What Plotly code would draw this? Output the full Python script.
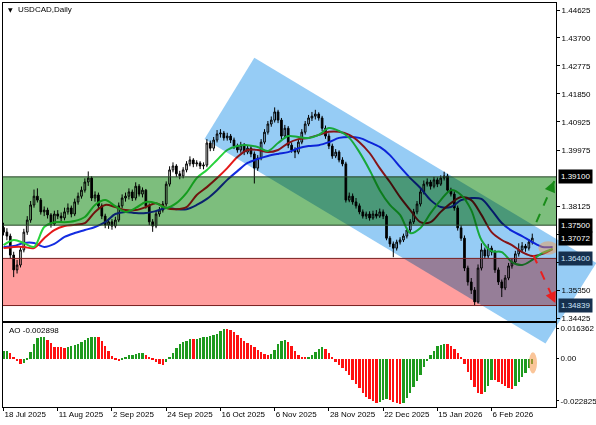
import plotly.graph_objects as go

# ---------------- data ----------------
tick_bars = [0, 16, 32, 48, 64, 80, 96, 112, 128, 144]
tick_dates = ["18 Jul 2025", "11 Aug 2025", "2 Sep 2025", "24 Sep 2025", "16 Oct 2025",
              "6 Nov 2025", "28 Nov 2025", "22 Dec 2025", "15 Jan 2026", "6 Feb 2026"]

price_ticks = [1.44625, 1.43700, 1.42775, 1.41850, 1.40925, 1.39975,
               1.38125, 1.37200, 1.36275, 1.35350, 1.34425]
ao_ticks = [0.016362, 0.0, -0.022825]
ao_tick_text = ["0.016362", "0.00", "-0.022825"]

open_ = [1.3742,1.3727,1.3714,1.3651,1.3602,1.3618,1.3668,1.3727,1.3767,1.3817,
1.3846,1.3833,1.3794,1.3800,1.3784,1.3754,1.3787,1.3780,1.3774,1.3794,
1.3807,1.3787,1.3827,1.3846,1.3866,1.3893,1.3906,1.3840,1.3850,1.3814,
1.3780,1.3751,1.3761,1.3747,1.3767,1.3814,1.3840,1.3846,1.3860,1.3840,
1.3879,1.3853,1.3866,1.3814,1.3761,1.3747,1.3787,1.3800,1.3820,1.3886,
1.3933,1.3946,1.3920,1.3913,1.3933,1.3953,1.3966,1.3953,1.3956,1.3946,
1.3949,1.4022,1.4005,1.4032,1.4052,1.4055,1.4039,1.4045,1.4032,1.4012,
1.3999,1.4015,1.3992,1.4005,1.3986,1.3939,1.3972,1.4025,1.4058,1.4085,
1.4098,1.4125,1.4098,1.4045,1.4071,1.4015,1.3999,1.3992,1.4025,1.4058,
1.4085,1.4105,1.4111,1.4118,1.4105,1.4071,1.4045,1.4012,1.3979,1.3992,
1.3966,1.3953,1.3833,1.3846,1.3827,1.3814,1.3794,1.3780,1.3787,1.3774,
1.3787,1.3780,1.3794,1.3780,1.3707,1.3688,1.3674,1.3694,1.3701,1.3714,
1.3734,1.3761,1.3794,1.3820,1.3860,1.3886,1.3893,1.3879,1.3900,1.3886,
1.3906,1.3913,1.3866,1.3853,1.3807,1.3741,1.3707,1.3608,1.3562,1.3535,
1.3496,1.3608,1.3668,1.3648,1.3674,1.3661,1.3602,1.3562,1.3542,1.3575,
1.3615,1.3628,1.3655,1.3668,1.3681,1.3674,1.3694]

high = [1.3758,1.3740,1.3722,1.3662,1.3635,1.3680,1.3738,1.3780,1.3830,1.3868,
1.3872,1.3840,1.3812,1.3808,1.3790,1.3798,1.3800,1.3792,1.3808,1.3822,
1.3815,1.3838,1.3858,1.3878,1.3905,1.3928,1.3912,1.3862,1.3858,1.3822,
1.3788,1.3772,1.3770,1.3778,1.3825,1.3852,1.3858,1.3872,1.3868,1.3892,
1.3886,1.3875,1.3870,1.3822,1.3770,1.3798,1.3810,1.3830,1.3895,1.3945,
1.3958,1.3952,1.3930,1.3942,1.3962,1.3978,1.3972,1.3965,1.3962,1.3958,
1.4035,1.4030,1.4042,1.4065,1.4068,1.4062,1.4056,1.4052,1.4040,1.4020,
1.4026,1.4022,1.4014,1.4012,1.3994,1.3982,1.4035,1.4068,1.4095,1.4110,
1.4140,1.4132,1.4105,1.4082,1.4078,1.4024,1.4008,1.4035,1.4068,1.4095,
1.4115,1.4125,1.4132,1.4124,1.4112,1.4080,1.4054,1.4020,1.4002,1.3998,
1.3975,1.3960,1.3858,1.3855,1.3840,1.3822,1.3802,1.3795,1.3796,1.3798,
1.3800,1.3805,1.3802,1.3786,1.3714,1.3696,1.3702,1.3710,1.3722,1.3742,
1.3770,1.3804,1.3830,1.3870,1.3898,1.3905,1.3900,1.3910,1.3908,1.3915,
1.3927,1.3920,1.3874,1.3862,1.3815,1.3750,1.3716,1.3616,1.3575,1.3545,
1.3620,1.3690,1.3676,1.3688,1.3682,1.3668,1.3610,1.3570,1.3585,1.3625,
1.3638,1.3665,1.3690,1.3694,1.3688,1.3704,1.3722]

low = [1.3716,1.3700,1.3640,1.3578,1.3590,1.3610,1.3660,1.3718,1.3758,1.3808,
1.3825,1.3785,1.3780,1.3772,1.3742,1.3748,1.3770,1.3762,1.3766,1.3785,
1.3776,1.3780,1.3818,1.3838,1.3858,1.3880,1.3830,1.3828,1.3805,1.3770,
1.3740,1.3738,1.3735,1.3740,1.3760,1.3806,1.3828,1.3835,1.3830,1.3832,
1.3845,1.3842,1.3805,1.3750,1.3728,1.3740,1.3778,1.3792,1.3812,1.3878,
1.3925,1.3910,1.3902,1.3905,1.3925,1.3945,1.3942,1.3944,1.3936,1.3935,
1.3942,1.3995,1.3996,1.4024,1.4040,1.4030,1.4030,1.4022,1.4002,1.3990,
1.3990,1.3982,1.3985,1.3975,1.3888,1.3930,1.3965,1.4018,1.4050,1.4076,
1.4090,1.4088,1.4035,1.4038,1.4005,1.3990,1.3972,1.3985,1.4018,1.4050,
1.4078,1.4095,1.4100,1.4096,1.4062,1.4036,1.4002,1.3970,1.3972,1.3958,
1.3945,1.3825,1.3826,1.3818,1.3805,1.3786,1.3772,1.3770,1.3765,1.3768,
1.3772,1.3774,1.3770,1.3700,1.3678,1.3644,1.3666,1.3686,1.3694,1.3706,
1.3726,1.3754,1.3786,1.3812,1.3852,1.3878,1.3868,1.3872,1.3876,1.3880,
1.3898,1.3858,1.3845,1.3798,1.3732,1.3698,1.3598,1.3550,1.3522,1.3484,
1.3490,1.3600,1.3638,1.3640,1.3650,1.3592,1.3552,1.3512,1.3535,1.3568,
1.3606,1.3620,1.3646,1.3660,1.3662,1.3666,1.3686]

close = [1.3727,1.3714,1.3651,1.3602,1.3618,1.3668,1.3727,1.3767,1.3817,1.3846,
1.3833,1.3794,1.3800,1.3784,1.3754,1.3787,1.3780,1.3774,1.3794,1.3807,
1.3787,1.3827,1.3846,1.3866,1.3893,1.3906,1.3840,1.3850,1.3814,1.3780,
1.3751,1.3761,1.3747,1.3767,1.3814,1.3840,1.3846,1.3860,1.3840,1.3879,
1.3853,1.3866,1.3814,1.3761,1.3747,1.3787,1.3800,1.3820,1.3886,1.3933,
1.3946,1.3920,1.3913,1.3933,1.3953,1.3966,1.3953,1.3956,1.3946,1.3949,
1.4022,1.4005,1.4032,1.4052,1.4055,1.4039,1.4045,1.4032,1.4012,1.3999,
1.4015,1.3992,1.4005,1.3986,1.3939,1.3972,1.4025,1.4058,1.4085,1.4098,
1.4125,1.4098,1.4045,1.4071,1.4015,1.3999,1.3992,1.4025,1.4058,1.4085,
1.4105,1.4111,1.4118,1.4105,1.4071,1.4045,1.4012,1.3979,1.3992,1.3966,
1.3953,1.3833,1.3846,1.3827,1.3814,1.3794,1.3780,1.3787,1.3774,1.3787,
1.3780,1.3794,1.3780,1.3707,1.3688,1.3674,1.3694,1.3701,1.3714,1.3734,
1.3761,1.3794,1.3820,1.3860,1.3886,1.3893,1.3879,1.3900,1.3886,1.3906,
1.3913,1.3866,1.3853,1.3807,1.3741,1.3707,1.3608,1.3562,1.3535,1.3496,
1.3608,1.3668,1.3648,1.3674,1.3661,1.3602,1.3562,1.3542,1.3575,1.3615,
1.3628,1.3655,1.3668,1.3681,1.3674,1.3694,1.3707]

# Alligator lines sampled every third bar (they run past the last candle)
line_bars = [0,3,6,9,12,15,18,21,24,27,30,33,36,39,42,45,48,51,54,57,60,63,66,69,72,75,
             78,81,84,87,90,93,96,99,102,105,108,111,114,117,120,123,126,129,132,135,138,
             141,144,147,150,153,156,159,162]
jaw = [1.3678,1.3681,1.3691,1.3691,1.3678,1.3688,1.3711,1.3724,1.3734,1.3744,
1.3760,1.3787,1.3794,1.3790,1.3790,1.3797,1.3807,1.3803,1.3803,1.3817,
1.3837,1.3866,1.3900,1.3929,1.3956,1.3969,1.3979,1.3986,1.3992,1.4005,
1.4012,1.4015,1.4025,1.4039,1.4042,1.4039,1.4025,1.4009,1.3982,1.3943,
1.3906,1.3873,1.3833,1.3810,1.3810,1.3833,1.3840,1.3837,1.3800,1.3757,
1.3731,1.3714,1.3694,1.3678,1.3678]
teeth = [1.3674,1.3678,1.3678,1.3674,1.3707,1.3734,1.3747,1.3751,1.3757,1.3794,
1.3817,1.3810,1.3800,1.3800,1.3810,1.3823,1.3807,1.3803,1.3810,1.3850,
1.3876,1.3906,1.3939,1.3976,1.3999,1.3999,1.3992,1.3999,1.4022,1.4035,
1.4039,1.4049,1.4059,1.4059,1.4049,1.4025,1.3989,1.3939,1.3893,1.3843,
1.3800,1.3760,1.3760,1.3794,1.3823,1.3843,1.3833,1.3784,1.3727,1.3701,
1.3684,1.3661,1.3648,1.3655,1.3671]
lips = [1.3684,1.3701,1.3691,1.3678,1.3744,1.3760,1.3760,1.3764,1.3777,1.3817,
1.3833,1.3813,1.3794,1.3807,1.3827,1.3823,1.3807,1.3823,1.3857,1.3906,
1.3933,1.3966,1.3999,1.4012,1.4015,1.4009,1.3996,1.4022,1.4045,1.4042,
1.4039,1.4049,1.4072,1.4062,1.4039,1.3992,1.3933,1.3866,1.3817,1.3784,
1.3724,1.3741,1.3790,1.3833,1.3866,1.3850,1.3800,1.3701,1.3664,1.3661,
1.3628,1.3618,1.3635,1.3658,1.3671]

ao = [0.0039,0.0043,0.0032,0.0009,-0.0014,-0.0027,-0.0023,-0.0009,0.0036,0.0080,
0.0110,0.0115,0.0117,0.0102,0.0082,0.0064,0.0061,0.0060,0.0059,0.0064,
0.0070,0.0075,0.0079,0.0088,0.0098,0.0110,0.0116,0.0118,0.0114,0.0093,
0.0068,0.0039,0.0016,-0.0004,-0.0011,-0.0007,0.0009,0.0020,0.0021,0.0025,
0.0029,0.0032,0.0021,0.0007,-0.0010,-0.0018,-0.0029,-0.0032,-0.0018,0.0007,
0.0030,0.0057,0.0079,0.0090,0.0097,0.0106,0.0104,0.0107,0.0111,0.0115,
0.0116,0.0120,0.0125,0.0132,0.0147,0.0162,0.0160,0.0156,0.0143,0.0125,
0.0111,0.0097,0.0084,0.0075,0.0063,0.0048,0.0036,0.0027,0.0021,0.0023,
0.0048,0.0079,0.0093,0.0102,0.0090,0.0066,0.0043,0.0021,0.0007,0.0004,
0.0010,0.0021,0.0036,0.0052,0.0061,0.0054,0.0030,0.0009,-0.0018,-0.0032,
-0.0050,-0.0068,-0.0090,-0.0113,-0.0136,-0.0161,-0.0184,-0.0208,-0.0220,-0.0229,
-0.0238,-0.0233,-0.0225,-0.0218,-0.0225,-0.0233,-0.0240,-0.0243,-0.0238,-0.0215,
-0.0184,-0.0154,-0.0122,-0.0086,-0.0047,-0.0014,0.0018,0.0043,0.0066,0.0075,
0.0081,0.0078,0.0070,0.0054,0.0030,0.0004,-0.0029,-0.0072,-0.0113,-0.0154,
-0.0184,-0.0193,-0.0178,-0.0148,-0.0113,-0.0118,-0.0126,-0.0137,-0.0148,-0.0158,
-0.0166,-0.0148,-0.0125,-0.0100,-0.0077,-0.0050,-0.002898]

green_zone = (1.37500, 1.39100)
red_zone = (1.34839, 1.36400)
current_price = 1.37072
# channel corners (bar index, price)
channel = [(74.0, 1.4304), (174.9, 1.3625), (159.9, 1.3358), (59.3, 1.4035)]
up_arrow = ((157.2, 1.3760), (162.5, 1.3896))
down_arrow = ((156.3, 1.3651), (162.8, 1.3492))

# ---------------- layout geometry ----------------
W, H = 596, 425
PL, PR = 3, 556
MT, MB = 3, 321
AT, AB = 323, 406.5
X0, X1 = -0.15, 163.0
YMAX = 1.44857
YMIN = YMAX - (MB - MT) / 3020.0
AOMAX = 0.01922
AOMIN = AOMAX - (AB - AT) / 1852.0

xdom = [PL / W, PR / W]
ydom = [1 - MB / H, 1 - MT / H]
adom = [1 - AB / H, 1 - AT / H]


def px_x(i):
    return PL + (i - X0) / (X1 - X0) * (PR - PL)


def px_y(p):
    return MT + (YMAX - p) / (YMAX - YMIN) * (MB - MT)


FONT = "Liberation Sans, Arial, sans-serif"
bars = list(range(len(close)))
ao_colors = ["#1e9a1e" if (k == 0 or ao[k] > ao[k - 1]) else "#ff1010" for k in range(len(ao))]

fig = go.Figure()
fig.add_trace(go.Candlestick(
    x=bars, open=open_, high=high, low=low, close=close,
    increasing=dict(line=dict(color="black", width=1), fillcolor="white"),
    decreasing=dict(line=dict(color="black", width=1), fillcolor="black"),
    whiskerwidth=0, showlegend=False, hoverinfo="skip", xaxis="x", yaxis="y"))
for vals, col in [(jaw, "rgb(20,45,225)"), (teeth, "rgb(228,25,25)"), (lips, "rgb(40,210,60)")]:
    fig.add_trace(go.Scatter(x=line_bars, y=vals, mode="lines",
                             line=dict(color=col, width=2, shape="spline", smoothing=0.9),
                             showlegend=False, hoverinfo="skip", xaxis="x", yaxis="y"))
fig.add_trace(go.Bar(x=bars, y=ao, marker=dict(color=ao_colors, line=dict(width=0)),
                     width=0.7, showlegend=False, hoverinfo="skip", xaxis="x2", yaxis="y2"))

shapes = []
# overlay zones (indices 0-2 are multiplied onto the chart, like the terminal does)
pts = [(px_x(i) / W, 1 - px_y(p) / H) for i, p in channel]
path = "M " + " L ".join(f"{x:.5f},{y:.5f}" for x, y in pts) + " Z"
shapes.append(dict(type="path", path=path, xref="paper", yref="paper",
                   fillcolor="rgb(150,204,245)", line=dict(width=0), layer="above"))
shapes.append(dict(type="rect", xref="paper", yref="y", x0=xdom[0], x1=xdom[1],
                   y0=green_zone[0], y1=green_zone[1], fillcolor="rgb(125,190,125)",
                   line=dict(width=0), layer="above"))
shapes.append(dict(type="rect", xref="paper", yref="y", x0=xdom[0], x1=xdom[1],
                   y0=red_zone[0], y1=red_zone[1], fillcolor="rgb(255,158,158)",
                   line=dict(width=0), layer="above"))
for v in green_zone:
    shapes.append(dict(type="line", xref="paper", yref="y", x0=xdom[0], x1=xdom[1], y0=v, y1=v,
                       line=dict(color="rgb(40,70,40)", width=1), layer="above"))
for v in red_zone:
    shapes.append(dict(type="line", xref="paper", yref="y", x0=xdom[0], x1=xdom[1], y0=v, y1=v,
                       line=dict(color="rgb(120,30,30)", width=1), layer="above"))
# dashed arrows
annotations = []
for (s, e), col in [(up_arrow, "rgb(25,140,25)"), (down_arrow, "rgb(235,30,30)")]:
    shapes.append(dict(type="line", xref="x", yref="y", x0=s[0], y0=s[1], x1=e[0], y1=e[1],
                       line=dict(color=col, width=2, dash="dash"), layer="above"))
    dx = px_x(s[0]) - px_x(e[0])
    dy = px_y(s[1]) - px_y(e[1])
    n = (dx * dx + dy * dy) ** 0.5
    annotations.append(dict(x=e[0], y=e[1], xref="x", yref="y", ax=dx / n * 8, ay=dy / n * 8,
                            text="", showarrow=True, arrowhead=2, arrowsize=1.1,
                            arrowwidth=2, arrowcolor=col))
# highlights
shapes.append(dict(type="circle", xref="x", yref="y", x0=157.8, x1=163.6, y0=1.3652, y1=1.3697,
                   fillcolor="rgba(250,150,70,0.45)", line=dict(width=0), layer="above"))
shapes.append(dict(type="circle", xref="x2", yref="y2", x0=155.0, x1=157.4, y0=-0.0080, y1=0.0034,
                   fillcolor="rgba(245,150,70,0.55)", line=dict(width=0), layer="above"))

# price label boxes
for v, bg, fc in [(green_zone[1], "black", "white"), (green_zone[0], "black", "white"),
                  (current_price, "black", "white"), (red_zone[1], "rgb(22,48,78)", "rgb(205,228,250)"),
                  (red_zone[0], "rgb(22,48,78)", "rgb(205,228,250)")]:
    annotations.append(dict(x=(PR + 1.5) / W, xref="paper", xanchor="left", y=v, yref="y",
                            yanchor="middle", text=f"{v:.5f}", showarrow=False, bgcolor=bg,
                            font=dict(family=FONT, size=8, color=fc), borderpad=2))
annotations.append(dict(x=5.5 / W, y=1 - 9.5 / H, xref="paper", yref="paper", xanchor="left",
                        yanchor="middle", text="▼", showarrow=False,
                        font=dict(family="DejaVu Sans", size=6, color="black")))
annotations.append(dict(x=15.5 / W, y=1 - 9.5 / H, xref="paper", yref="paper", xanchor="left",
                        yanchor="middle", text="USDCAD,Daily", showarrow=False,
                        font=dict(family=FONT, size=8, color="black")))
annotations.append(dict(x=6.5 / W, y=1 - 330 / H, xref="paper", yref="paper", xanchor="left",
                        yanchor="middle", text=f"AO {ao[-1]:.6f}", showarrow=False,
                        font=dict(family=FONT, size=8, color="black")))

axis_common = dict(showgrid=False, zeroline=False, showline=True, mirror=True,
                   linecolor="black", linewidth=1, automargin=False, fixedrange=True,
                   tickfont=dict(family=FONT, size=8, color="black"), tickcolor="black")

fig.update_layout(
    width=W, height=H, autosize=False, margin=dict(l=0, r=0, t=0, b=0, pad=0),
    paper_bgcolor="white", plot_bgcolor="white", template="none", showlegend=False,
    xaxis=dict(domain=xdom, range=[X0, X1], anchor="y", showticklabels=False, ticks="",
               rangeslider=dict(visible=False), **axis_common),
    yaxis=dict(domain=ydom, range=[YMIN, YMAX], anchor="x", side="right",
               tickvals=price_ticks, ticktext=[f"{v:.5f}" for v in price_ticks],
               ticks="outside", ticklen=3, **axis_common),
    xaxis2=dict(domain=xdom, range=[X0, X1], anchor="y2", tickvals=tick_bars, ticktext=tick_dates,
                ticks="outside", ticklen=3, tickangle=0, ticklabelposition="outside right",
                **axis_common),
    yaxis2=dict(domain=adom, range=[AOMIN, AOMAX], anchor="x2", side="right",
                tickvals=ao_ticks, ticktext=ao_tick_text, ticks="outside", ticklen=2, **axis_common),
    shapes=shapes, annotations=annotations, bargap=0,
)

post = """
document.body.style.margin='0px';
document.body.style.overflow='hidden';
function blendZones(){
  document.querySelectorAll('.shapelayer [data-index]').forEach(function(el){
    var i = el.getAttribute('data-index');
    if (i === '0' || i === '1' || i === '2') {
      el.style.mixBlendMode = 'multiply';
      el.querySelectorAll('path').forEach(function(p){ p.style.mixBlendMode = 'multiply'; });
    }
  });
}
blendZones(); setTimeout(blendZones, 30); setTimeout(blendZones, 300);
"""
fig.write_html("out.html", config={"displayModeBar": False}, post_script=post)
